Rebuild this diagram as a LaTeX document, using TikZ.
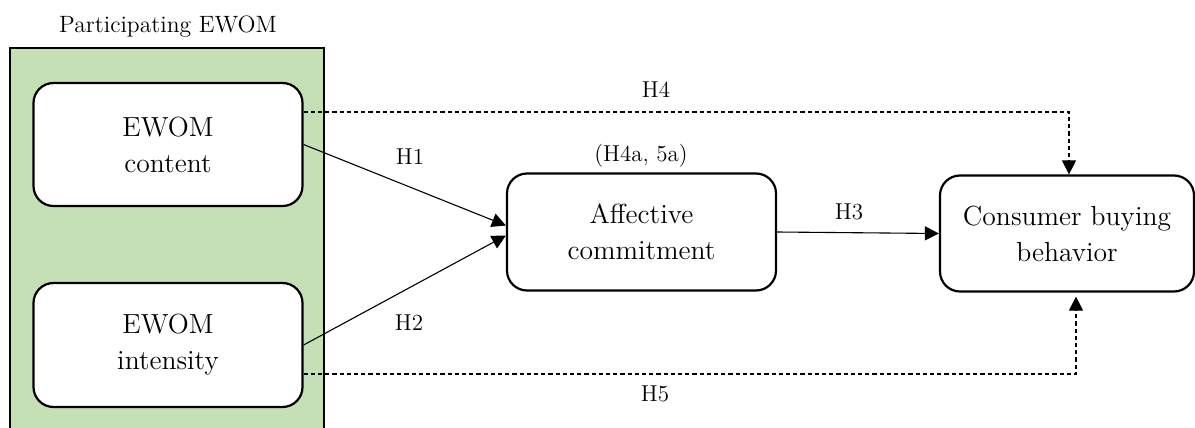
\documentclass[tikz,border=0pt]{standalone}
\usetikzlibrary{arrows.meta}

\definecolor{framegreen}{RGB}{197,224,180}

\begin{document}
\begin{tikzpicture}[
					x=0.5pt, y=-0.5pt,
					frame/.style={draw, line width=1.1pt, fill=framegreen},
					box/.style={draw, line width=1.1pt, rounded corners=10pt, fill=white, align=center, font=\fontsize{13.8pt}{18pt}\selectfont},
					tag/.style={font=\fontsize{11.5pt}{13pt}\selectfont},
					link/.style={line width=0.55pt, -{Triangle[length=7pt, width=7pt]}},
					hyp/.style={link, dash pattern=on 2.1pt off 1.5pt}
				]
				% Bounding box
				\useasboundingbox (0,0) rectangle (1195,428);
				\clip (0,0) rectangle (1195,428);

				% --- Recuadro verde ---
				\draw[frame] (10,48) rectangle (324,445);
				\node[font=\fontsize{11.8pt}{14pt}\selectfont] (title) at (168,27) {Participating EWOM};

				% --- Variables ---
				\node[box, minimum width=134.5pt, minimum height=61.5pt] (content) at (168,144.5) {EWOM\\content};
				\node[box, minimum width=134.5pt, minimum height=62pt] (intensity) at (168,345) {EWOM\\intensity};
				\node[box, minimum width=134.5pt, minimum height=58.5pt] (affect) at (641.5,232) {Affective\\commitment};
				\node[box, minimum width=127pt, minimum height=58pt] (buying) at (1067,233.5) {Consumer buying\\behavior};

				% --- Hipótesis directas ---
				\draw[link] (content.east) -- ([yshift=3.25pt]affect.west);
				\draw[link] (intensity.east) -- ([yshift=-1.75pt]affect.west);
				\draw[link] (affect.east) -- (buying.west);

				% --- Hipótesis indirectas ---
				\coordinate (h4) at (0,112);
				\coordinate (h5) at (0,374);
				\draw[hyp] (content.east |- h4) -| ([xshift=1pt]buying.north);
				\draw[hyp, shorten >=2pt] (intensity.east |- h5) -| ([xshift=4.5pt]buying.south);

				% --- Etiquetas ---
				\node[tag] (lh1) at (410,157) {H1};
				\node[tag] (lh2) at (409,323) {H2};
				\node[tag] (lh3) at (849,212) {H3};
				\node[tag] (lh4) at (656,90) {H4};
				\node[tag] (lh5) at (655,394) {H5};
				\node[tag] (lmed) at (641,156) {(H4a, 5a)};

			\end{tikzpicture}
\end{document}
